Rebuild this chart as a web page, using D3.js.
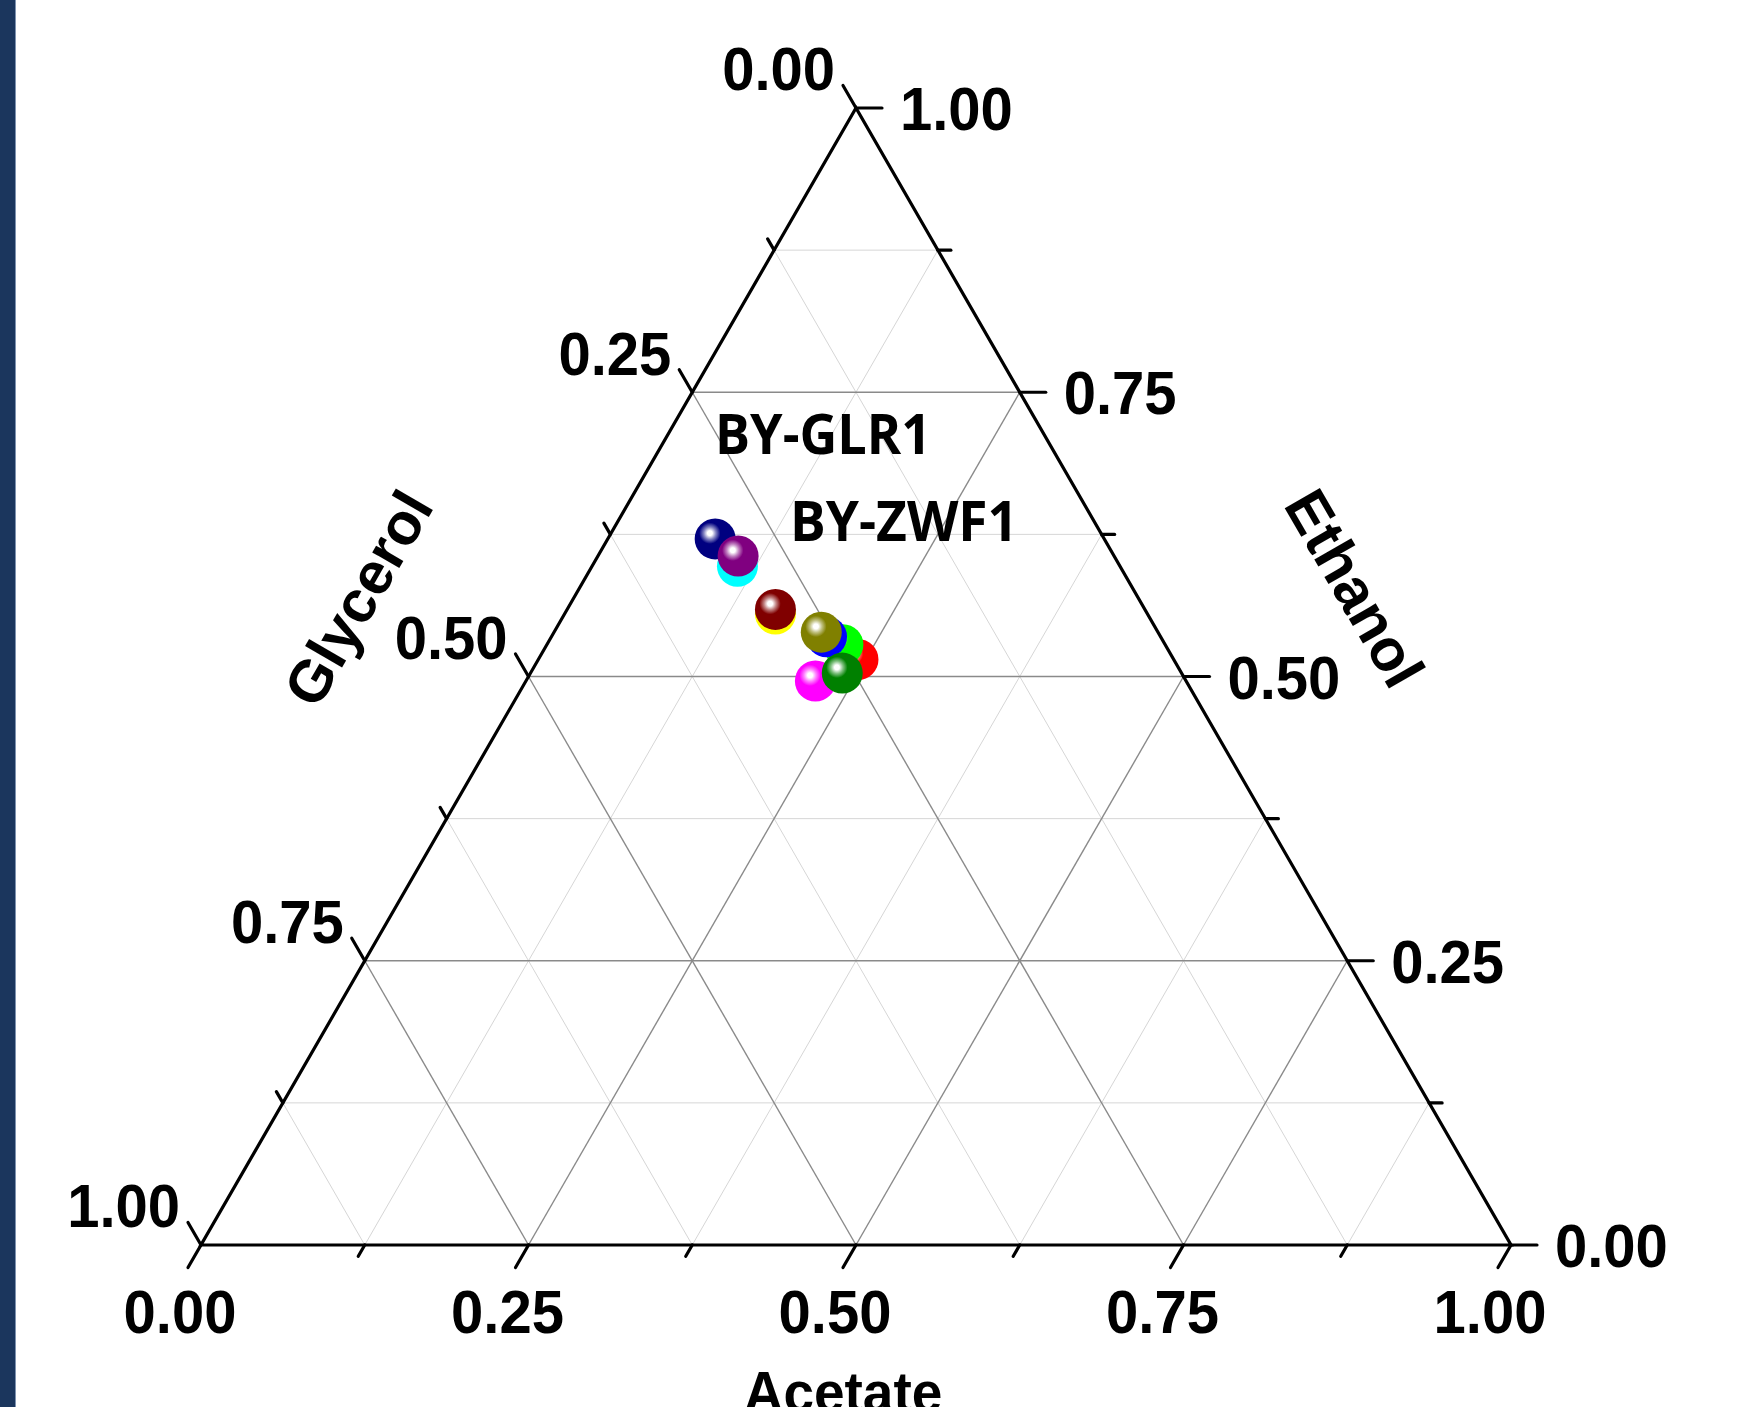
<!DOCTYPE html>
<html>
<head>
<meta charset="utf-8">
<script src="https://cdn.jsdelivr.net/npm/d3@7"></script>
<style>
	html, body { margin: 0; padding: 0; background: #ffffff; overflow: hidden; }
	svg { display: block; }
</style>
</head>
<body>
<div id="chart"></div>
<script>
// strain colours as drawn (later ones sit on top)
const pointColors = ['#00FFFF', '#000080', '#800080', '#FFFF00', '#800000', '#FF0000', '#00FF00', '#0000FF', '#808000', '#FF00FF', '#008000'];
// fractions
const acetateValues = [0.111, 0.082, 0.107, 0.161, 0.159, 0.244, 0.226, 0.210, 0.204, 0.221, 0.238];
const ethanolValues = [0.597, 0.621, 0.606, 0.555, 0.559, 0.515, 0.528, 0.535, 0.539, 0.496, 0.503];
const glycerolValues = [0.292, 0.297, 0.287, 0.284, 0.282, 0.241, 0.246, 0.255, 0.257, 0.283, 0.259];

const majorTicks = [0, 0.25, 0.5, 0.75, 1];
const minorTicks = [0.125, 0.375, 0.625, 0.875];
const tickLabels = ['0.00', '0.25', '0.50', '0.75', '1.00'];

const annotations = [
	{ text: 'BY-GLR1', x: 715, y: 454, len: 216 },
	{ text: 'BY-ZWF1', x: 790, y: 541, len: 228 },
];

const chartWidth = 1737;
const chartHeight = 1407;
const plotLeft = 201, plotRight = 1511, plotBase = 1245, plotApex = 108;

// x runs along the base, y follows the ethanol fraction
const xScale = d3.scaleLinear().domain([0, 1]).range([plotLeft, plotRight]);
const yScale = d3.scaleLinear().domain([0, 1]).range([plotBase, plotApex]);

function pos(a, e) {
	return [xScale(a + e / 2), yScale(e)];
}

const svg = d3.select('#chart').append('svg')
		.attr('width', chartWidth)
		.attr('height', chartHeight);

svg.append('rect')
		.attr('x', 0).attr('y', 0)
		.attr('width', 15).attr('height', chartHeight)
		.attr('fill', '#1b365d');
svg.append('line')
		.attr('x1', 15.5).attr('x2', 15.5)
		.attr('y1', 0).attr('y2', chartHeight)
		.attr('stroke', '#7f93b0')
		.attr('stroke-width', 1);

// grid
const grid = svg.append('g').attr('fill', 'none');
const gridValues = minorTicks.concat([0.25, 0.5, 0.75]);
gridValues.forEach((v) => {
	const isMajor = majorTicks.includes(v);
	const stroke = isMajor ? '#8a8a8a' : '#d6d6d6';
	const sw = isMajor ? 1.4 : 1;
	const segs = [
		[pos(0, v), pos(1 - v, v)],          // ethanol constant
		[pos(v, 0), pos(v, 1 - v)],          // acetate constant
		[pos(1 - v, 0), pos(0, 1 - v)],      // glycerol constant
	];
	segs.forEach((s) => {
		grid.append('line')
				.attr('x1', s[0][0]).attr('y1', s[0][1])
				.attr('x2', s[1][0]).attr('y2', s[1][1])
				.attr('stroke', stroke)
				.attr('stroke-width', sw);
	});
});

// frame
svg.append('path')
		.attr('d', d3.line()([pos(0, 0), pos(1, 0), pos(0, 1)]) + 'Z')
		.attr('fill', 'none')
		.attr('stroke', '#000')
		.attr('stroke-width', 3.2)
		.attr('stroke-linejoin', 'miter');

const c60 = 0.5, s60 = Math.sqrt(3) / 2;
const axes = [
	// acetate along the base, ticks down-left
	{ at: (v) => pos(v, 0), dir: [-c60, s60], label: (p, d) => [p[0] + d[0] - 8, p[1] + d[1] + 65], anchor: 'middle' },
	// ethanol on the right edge, ticks to the right
	{ at: (v) => pos(1 - v, v), dir: [1, 0], label: (p, d) => [p[0] + d[0] + 18, p[1] + 22], anchor: 'start' },
	// glycerol on the left edge, ticks up-left
	{ at: (v) => pos(0, 1 - v), dir: [-c60, -s60], label: (p, d) => [p[0] + d[0] - 8, p[1] + d[1] + 5], anchor: 'end' },
];

const tickG = svg.append('g')
		.attr('stroke', '#000')
		.attr('stroke-width', 3.2)
		.attr('stroke-linecap', 'round');
const labelG = svg.append('g')
		.style('font-family', '"Liberation Sans", Arial, sans-serif')
		.style('font-weight', 'bold')
		.style('font-size', '58px')
		.attr('fill', '#000');

axes.forEach((ax) => {
	majorTicks.forEach((v, i) => {
		const p = ax.at(v);
		const d = [ax.dir[0] * 26, ax.dir[1] * 26];
		tickG.append('line')
				.attr('x1', p[0]).attr('y1', p[1])
				.attr('x2', p[0] + d[0]).attr('y2', p[1] + d[1]);
		const lp = ax.label(p, d);
		// the original digits are a touch taller than plain Arial
		labelG.append('text')
				.attr('transform', `translate(${lp[0]},${lp[1]}) scale(1,1.05)`)
				.attr('text-anchor', ax.anchor)
				.text(tickLabels[i]);
	});
	minorTicks.forEach((v) => {
		const p = ax.at(v);
		tickG.append('line')
				.attr('x1', p[0]).attr('y1', p[1])
				.attr('x2', p[0] + ax.dir[0] * 13).attr('y2', p[1] + ax.dir[1] * 13);
	});
});

// axis titles
const titleFont = (sel, size) => sel
		.style('font-family', '"Liberation Sans", Arial, sans-serif')
		.style('font-weight', 'bold')
		.style('font-size', `${size}px`)
		.attr('fill', '#000')
		.attr('text-anchor', 'middle');

svg.append('text')
		.call(titleFont, 55)
		.attr('transform', 'translate(843,1412) scale(1,1.05)')
		.text('Acetate');

svg.append('text')
		.call(titleFont, 59)
		.attr('transform', 'translate(363,601) rotate(-60)')
		.attr('y', 15)
		.text('Glycerol');

svg.append('text')
		.call(titleFont, 59)
		.attr('transform', 'translate(1355,588) rotate(60)')
		.attr('y', 21)
		.text('Ethanol');

// ball markers
const defs = svg.append('defs');
pointColors.forEach((c, i) => {
	const light = d3.interpolateRgb(c, '#ffffff')(0.5);
	const g = defs.append('radialGradient')
			.attr('id', `ball${i}`)
			.attr('cx', 0.37).attr('cy', 0.36)
			.attr('fx', 0.37).attr('fy', 0.36)
			.attr('r', 0.5);
	g.append('stop').attr('offset', 0).attr('stop-color', '#ffffff');
	g.append('stop').attr('offset', 0.12).attr('stop-color', '#ffffff');
	g.append('stop').attr('offset', 0.3).attr('stop-color', light);
	g.append('stop').attr('offset', 0.52).attr('stop-color', c);
	g.append('stop').attr('offset', 1).attr('stop-color', c);
});

svg.append('g').selectAll('circle')
		.data(pointColors.map((c, i) => ({ a: acetateValues[i], e: ethanolValues[i], g: glycerolValues[i], i })))
	.enter().append('circle')
		.attr('cx', (d) => pos(d.a, d.e)[0])
		.attr('cy', (d) => pos(d.a, d.e)[1])
		.attr('r', 20.5)
		.attr('fill', (d) => `url(#ball${d.i})`);

// strain labels
svg.append('g').selectAll('text')
		.data(annotations)
	.enter().append('text')
		.attr('x', (d) => d.x)
		.attr('y', (d) => d.y)
		.attr('textLength', (d) => d.len)
		.attr('lengthAdjust', 'spacingAndGlyphs')
		.style('font-family', '"Open Sans", "Noto Sans", sans-serif')
		.style('font-weight', 'bold')
		.style('font-size', '55px')
		.attr('fill', '#000')
		.text((d) => d.text);
</script>
</body>
</html>
